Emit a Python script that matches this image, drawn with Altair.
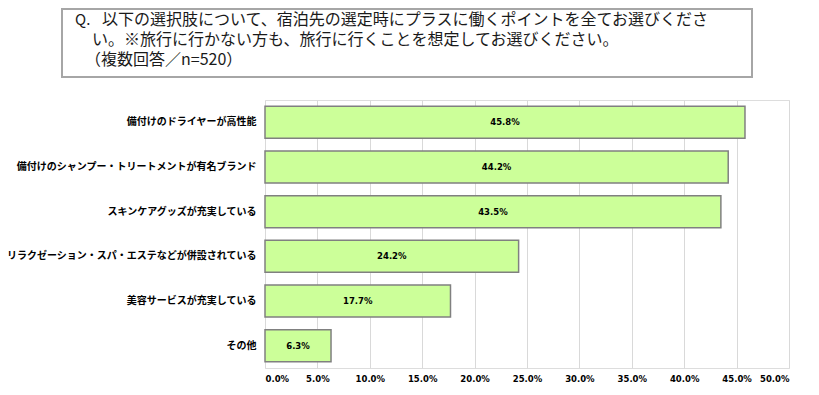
import altair as alt
import pandas as pd

categories = [
    "備付けのドライヤーが高性能",
    "備付けのシャンプー・トリートメントが有名ブランド",
    "スキンケアグッズが充実している",
    "リラクゼーション・スパ・エステなどが併設されている",
    "美容サービスが充実している",
    "その他",
]
values = [45.8, 44.2, 43.5, 24.2, 17.7, 6.3]
labels = ["45.8%", "44.2%", "43.5%", "24.2%", "17.7%", "6.3%"]

title_lines = [
    "以下の選択肢について、宿泊先の選定時にプラスに働くポイントを全てお選びくださ",
    "い。※旅行に行かない方も、旅行に行くことを想定してお選びください。",
    "（複数回答／n=520）",
]

df = pd.DataFrame({"cat": categories, "val": values, "lab": labels})

JP = "Noto Sans CJK JP"
NUM = "DejaVu Sans"

y_enc = alt.Y(
    "cat:N",
    sort=None,
    title=None,
    scale=alt.Scale(paddingInner=0.283, paddingOuter=0.1415),
    axis=alt.Axis(
        labelFont=JP,
        labelFontWeight="bold",
        labelFontSize=10,
        labelColor="#000000",
        labelPadding=9,
        ticks=False,
        domain=False,
        grid=False,
        labelLimit=300,
    ),
)

x_enc = alt.X(
    "val:Q",
    title=None,
    scale=alt.Scale(domain=[0, 50], nice=False),
    axis=alt.Axis(
        values=[0, 5, 10, 15, 20, 25, 30, 35, 40, 45, 50],
        labelExpr="format(datum.value, '.1f') + '%'",
        labelFont=NUM,
        labelFontWeight="bold",
        labelFontSize=8.5,
        labelColor="#000000",
        labelPadding=6,
        ticks=False,
        domain=False,
        grid=True,
        gridColor="#d9d9d9",
        gridWidth=1,
    ),
)

bars = alt.Chart(df).mark_bar(
    fill="#ccff99", stroke="#808080", strokeWidth=1.5
).encode(x=x_enc, y=y_enc)

texts = alt.Chart(df).transform_calculate(half="datum.val / 2").mark_text(
    font=NUM, fontWeight="bold", fontSize=8.5, color="#000000"
).encode(
    x=alt.X("half:Q"),
    y=alt.Y("cat:N", sort=None),
    text="lab:N",
)

box_df = pd.DataFrame({"k": [0]})
box = alt.Chart(box_df).mark_rect(
    fill="#ffffff", stroke="#a6a6a6", strokeWidth=2
).encode(
    x=alt.value(-203), x2=alt.value(487), y=alt.value(-91), y2=alt.value(-23)
)

TITLE_SIZE = 16
TITLE_COLOR = "#1a1a1a"

q_text = alt.Chart(box_df).mark_text(
    text="Q.", font=JP, fontSize=15, align="left", baseline="middle", color=TITLE_COLOR
).encode(x=alt.value(-190), y=alt.value(-80))

line1 = alt.Chart(box_df).mark_text(
    text=title_lines[0], font=JP, fontSize=TITLE_SIZE, align="left", baseline="middle", color=TITLE_COLOR
).encode(x=alt.value(-163), y=alt.value(-80))

line2 = alt.Chart(box_df).mark_text(
    text=title_lines[1], font=JP, fontSize=TITLE_SIZE, align="left", baseline="middle", color=TITLE_COLOR
).encode(x=alt.value(-173), y=alt.value(-60))

line3 = alt.Chart(box_df).mark_text(
    text=title_lines[2], font=JP, fontSize=TITLE_SIZE, align="left", baseline="middle", color=TITLE_COLOR
).encode(x=alt.value(-180), y=alt.value(-40))

chart = alt.layer(bars, texts, box, q_text, line1, line2, line3).properties(
    width=524,
    height=268,
    autosize=alt.AutoSizeParams(type="none"),
    padding={"left": 257, "top": 92, "right": 10, "bottom": 16},
).configure_view(stroke=None).configure(background="#ffffff")

chart.save("out.html", embed_options={"renderer": "svg", "actions": False})
